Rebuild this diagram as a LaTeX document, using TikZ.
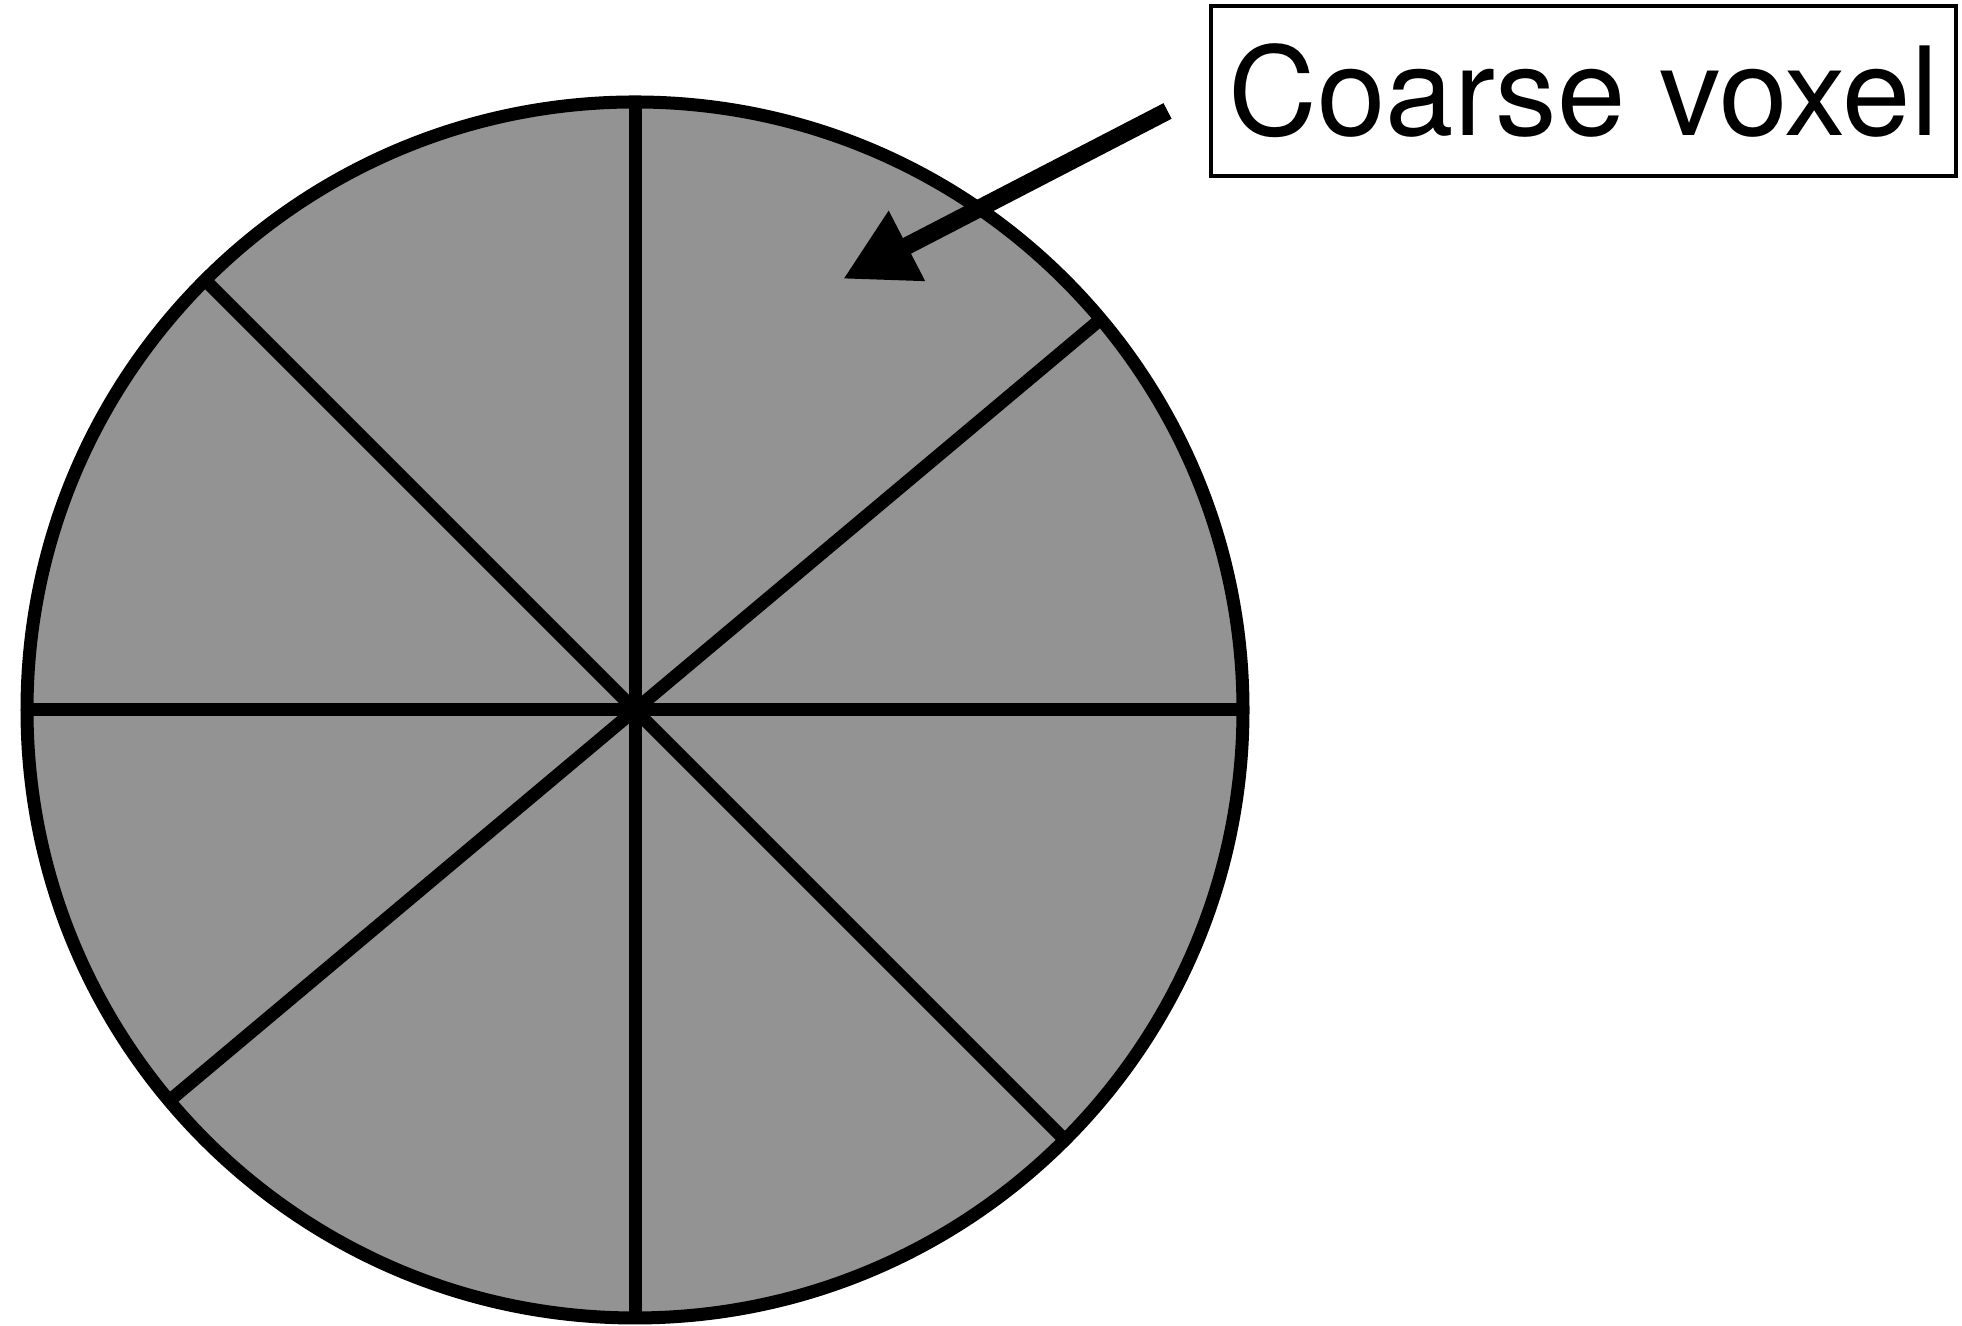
\documentclass[tikz,border=0pt]{standalone}
\usepackage{fontspec}
\usepackage{tikz}
\usetikzlibrary{arrows.meta}
\usetikzlibrary{calc}
\usepackage{xcolor}
\newfontfamily\tagfont{TeX Gyre Heros}
\definecolor{voxelgray}{RGB}{147,147,147}

\begin{document}
\begin{tikzpicture}[
	spoke/.style={line width=3.7pt},
	pointer/.style={line width=5pt,-{Triangle[length=7.2mm,width=7.4mm]}},
	tag/.style={draw,line width=1.4pt,minimum width=7.45cm,minimum height=1.7cm,
		inner sep=0pt,font=\tagfont\fontsize{35}{40}\selectfont}
	]
	\useasboundingbox (0,0) rectangle (19.62,13.26);
	
	% --- coarse voxel (disk cut in eight) ---
	\coordinate (c) at (6.35,6.16);
	\fill[voxelgray] (c) circle [radius=6.08];
	
	\foreach \a in {90,135,180,220}
	\draw[spoke] (c) ++(\a:6.08) -- ++(\a+180:12.16);
	
	\draw[line width=3.7pt] (c) circle [radius=6.08];
	
	% --- label and arrow ---
	\node[tag] (label) at (15.835,12.35) {\raisebox{-0.6mm}{Coarse voxel}};
	
	\coordinate (tail) at ([xshift=-4.1mm,yshift=-2mm]label.west);
	\coordinate (tip) at (8.43,10.47);
	\draw[pointer] (tail) -- (tip);
	
\end{tikzpicture}
\end{document}
